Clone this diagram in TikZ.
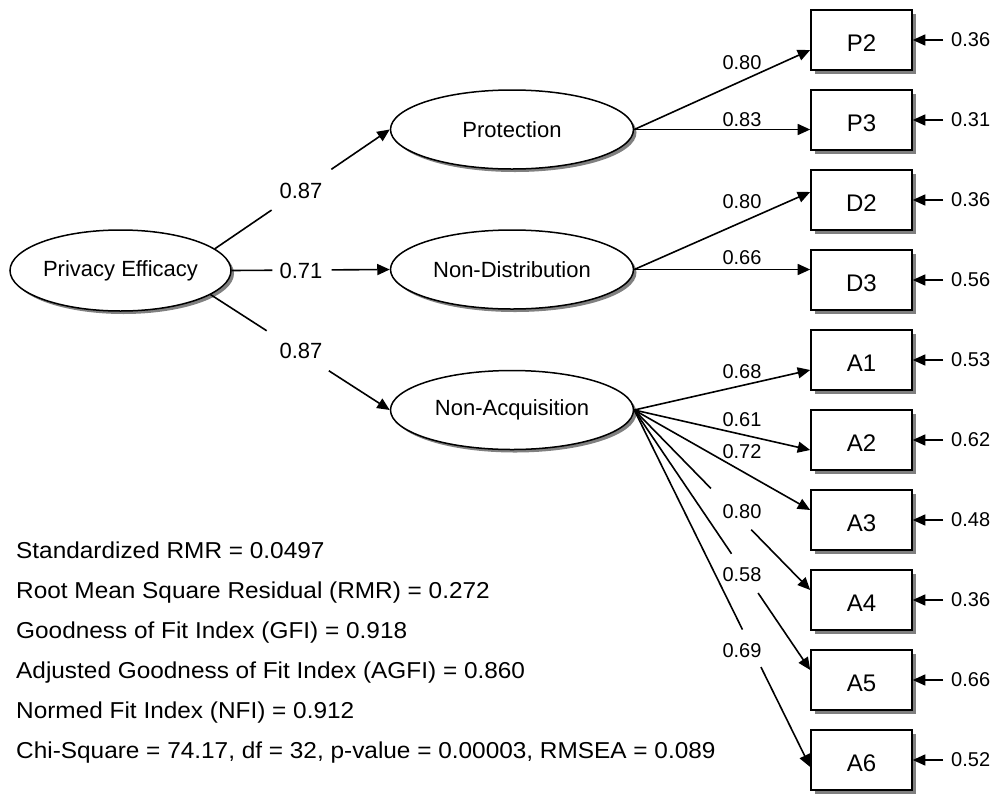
\documentclass[tikz,border=0pt]{standalone}
\usepackage{fontspec}
\setmainfont{Liberation Sans}
\newfontfamily\fitfont[FakeStretch=1.06]{Liberation Sans}
\usetikzlibrary{arrows.meta,calc,shapes.geometric,shadows}
\begin{document}
\begin{tikzpicture}[x=1pt,y=-1pt,
  lw/.style={line width=1.6pt},
  arr/.style={line width=1.6pt,-{Triangle[length=12.5pt,width=11pt]}},
  latent/.style={ellipse,draw,line width=1.5pt,fill=white,inner sep=0pt,
    font=\fontsize{22}{26}\selectfont,
    drop shadow={shadow xshift=3pt,shadow yshift=-3pt,fill=black!50,opacity=1}},
  obs/.style={rectangle,draw,line width=1.6pt,fill=white,inner sep=0pt,
    minimum width=101pt,minimum height=60pt,font=\fontsize{24}{28}\selectfont,
    text height=22.2pt,text depth=0pt,
    drop shadow={shadow xshift=4pt,shadow yshift=-4pt,fill=black!50,opacity=1}},
  bignum/.style={inner sep=0pt,font=\fontsize{22}{26}\selectfont},
  num/.style={inner sep=0pt,font=\fontsize{20}{24}\selectfont},
  errlab/.style={anchor=west,inner ysep=0pt,inner xsep=8pt,font=\fontsize{20}{24}\selectfont},
  fit/.style={anchor=base west,inner sep=0pt,font=\fitfont\fontsize{23}{27}\selectfont}
]
\path[use as bounding box] (0,0) rectangle (996,793);

% latent variables
\node[latent,minimum width=221pt,minimum height=81pt] (PE) at (120.5,270.5) {Privacy Efficacy};
\node[latent,minimum width=243pt,minimum height=79pt] (Prot) at (512,129.5) {Protection};
\node[latent,minimum width=243pt,minimum height=79pt] (ND) at (512,269.5) {Non-Distribution};
\node[latent,minimum width=243pt,minimum height=79pt] (NA) at (512,410) {Non-Acquisition};

% observed variables
\node[obs] (P2) at (861.5,40) {P2};
\node[obs] (P3) at (861.5,120) {P3};
\node[obs] (D2) at (861.5,200) {D2};
\node[obs] (D3) at (861.5,280) {D3};
\node[obs] (A1) at (861.5,360) {A1};
\node[obs] (A2) at (861.5,440) {A2};
\node[obs] (A3) at (861.5,520) {A3};
\node[obs] (A4) at (861.5,600) {A4};
\node[obs] (A5) at (861.5,680) {A5};
\node[obs] (A6) at (861.5,760) {A6};

% error terms
\node[errlab] (eP2) at (943,40) {0.36};
\node[errlab] (eP3) at (943,120) {0.31};
\node[errlab] (eD2) at (943,200) {0.36};
\node[errlab] (eD3) at (943,280) {0.56};
\node[errlab] (eA1) at (943,360) {0.53};
\node[errlab] (eA2) at (943,440) {0.62};
\node[errlab] (eA3) at (943,520) {0.48};
\node[errlab] (eA4) at (943,600) {0.36};
\node[errlab] (eA5) at (943,680) {0.66};
\node[errlab] (eA6) at (943,760) {0.52};
\foreach \b in {P2,P3,D2,D3,A1,A2,A3,A4,A5,A6}{
  \draw[arr] (e\b.west) -- (\b.east);
}

% second-order paths
\coordinate (PEa) at (PE.13);
\coordinate (PEc) at (PE.-15);
\draw[lw] (PEa) -- ($(PEa)!0.324!(Prot.west)$);
\draw[arr] ($(PEa)!0.666!(Prot.west)$) -- (Prot.west);
\node[bignum] (g1) at (301,191) {0.87};
\draw[lw] (PE.east) -- ($(PE.east)!0.257!(ND.west)$);
\draw[arr] ($(PE.east)!0.632!(ND.west)$) -- (ND.west);
\node[bignum] (g2) at (301,271) {0.71};
\draw[lw] (PEc) -- ($(PEc)!0.313!(NA.west)$);
\draw[arr] ($(PEc)!0.66!(NA.west)$) -- (NA.west);
\node[bignum] (g3) at (301,351) {0.87};

% first-order loadings
\coordinate (tP2) at ($(P2.west)+(0,10)$);
\coordinate (tP3) at ($(P3.west)+(0,9.5)$);
\coordinate (tD2) at ($(D2.west)+(0,-8)$);
\coordinate (tD3) at ($(D3.west)+(0,-10.5)$);
\coordinate (tA1) at ($(A1.west)+(0,10)$);
\coordinate (tA2) at ($(A2.west)+(0,10)$);
\coordinate (tA3) at ($(A3.west)+(0,-10)$);
\coordinate (tA4) at ($(A4.west)+(0,-10)$);
\coordinate (tA5) at ($(A5.west)+(0,-10)$);
\coordinate (tA6) at ($(A6.west)+(0,7)$);

\draw[arr] (Prot.east) -- (tP2);
\draw[arr] (Prot.east) -- (tP3);
\draw[arr] (ND.east) -- (tD2);
\draw[arr] (ND.east) -- (tD3);
\draw[arr] (NA.east) -- (tA1);
\draw[arr] (NA.east) -- (tA2);
\draw[arr] (NA.east) -- (tA3);
\draw[lw] (NA.east) -- ($(NA.east)!0.436!(tA4)$);
\draw[arr] ($(NA.east)!0.665!(tA4)$) -- (tA4);
\draw[lw] (NA.east) -- ($(NA.east)!0.553!(tA5)$);
\draw[arr] ($(NA.east)!0.704!(tA5)$) -- (tA5);
\draw[lw] (NA.east) -- ($(NA.east)!0.615!(tA6)$);
\draw[arr] ($(NA.east)!0.72!(tA6)$) -- (tA6);

\node[num] (lP2) at (742,63) {0.80};
\node[num] (lP3) at (742,120) {0.83};
\node[num] (lD2) at (742,202) {0.80};
\node[num] (lD3) at (742,258) {0.66};
\node[num] (lA1) at (742,372) {0.68};
\node[num] (lA2) at (742,420) {0.61};
\node[num] (lA3) at (742,452) {0.72};
\node[num] (lA4) at (742,512) {0.80};
\node[num] (lA5) at (742,575) {0.58};
\node[num] (lA6) at (742,651) {0.69};

% fit indices
\node[fit] (f1) at (16,558) {Standardized RMR = 0.0497};
\node[fit] (f2) at (16,598) {Root Mean Square Residual (RMR) = 0.272};
\node[fit] (f3) at (16,638) {Goodness of Fit Index (GFI) = 0.918};
\node[fit] (f4) at (16,678) {Adjusted Goodness of Fit Index (AGFI) = 0.860};
\node[fit] (f5) at (16,718) {Normed Fit Index (NFI) = 0.912};
\node[fit] (f6) at (16,758) {Chi-Square = 74.17, df = 32, p-value = 0.00003, RMSEA = 0.089};
\end{tikzpicture}
\end{document}
